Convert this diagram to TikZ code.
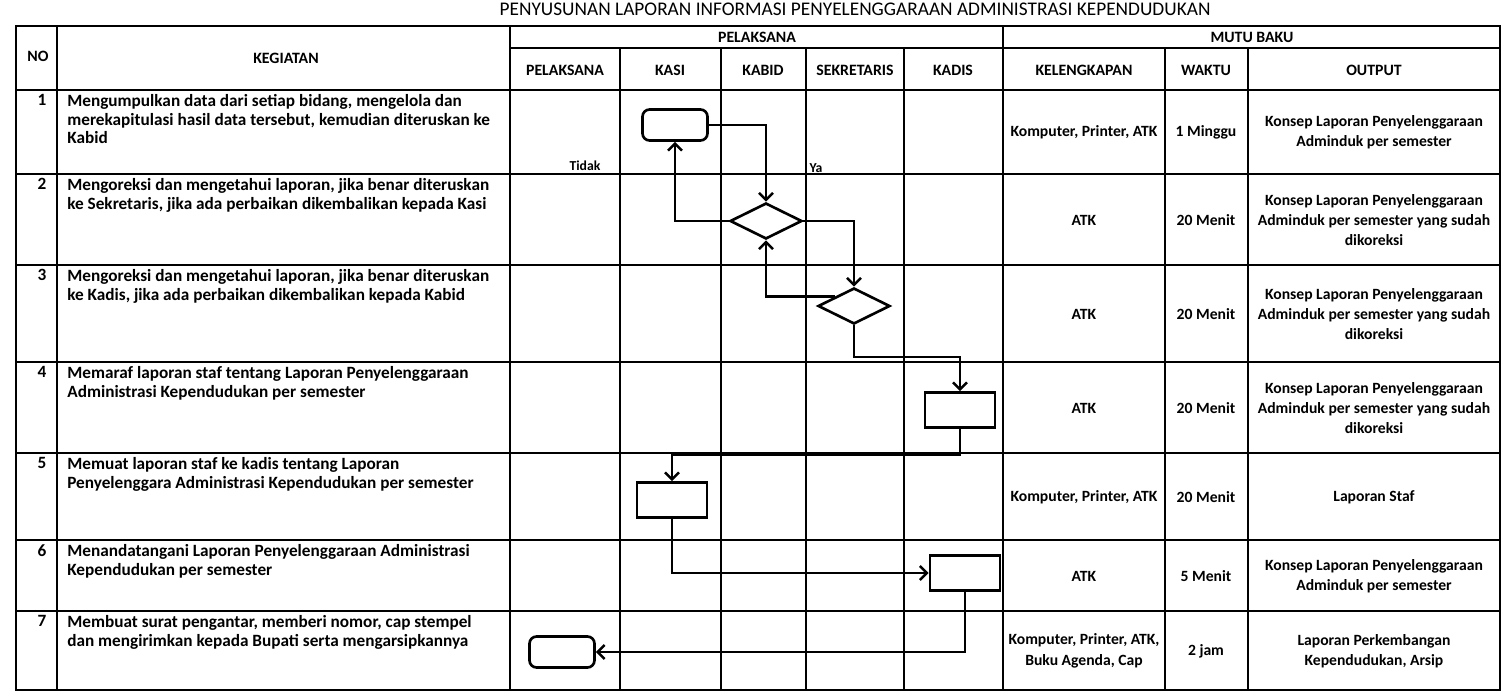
\documentclass[tikz,border=0pt]{standalone}
\usepackage{fontspec}
\setmainfont{Carlito}
\usetikzlibrary{shapes.geometric,arrows.meta}

\tikzset{
  tbl/.style={line width=1pt},
  hd/.style={font=\fontsize{9}{10}\selectfont\bfseries},
  txt/.style={font=\fontsize{9.8}{10.6}\selectfont\bfseries, anchor=north west, align=left, inner sep=0pt},
  num/.style={font=\fontsize{9.8}{10.6}\selectfont\bfseries, anchor=north, inner sep=0pt},
  cell/.style={font=\fontsize{8.9}{11.6}\selectfont\bfseries, align=center},
  term/.style={draw, rounded corners=4pt, line width=1.5pt, minimum width=1.3cm, minimum height=0.62cm},
  proc/.style={draw, line width=1.5pt, minimum width=1.4cm, minimum height=0.7cm},
  dec/.style={draw, diamond, line width=1.5pt, minimum width=1.44cm, minimum height=0.72cm, inner sep=0pt},
  flow/.style={line width=1.4pt, -{Straight Barb[length=4pt,width=8pt]}},
  lbl/.style={font=\fontsize{7.8}{9}\selectfont\bfseries},
}

\begin{document}
\begin{tikzpicture}[x=0.02cm, y=-0.02cm]
    \fill[white] (0,0) rectangle (1502,693);
    \useasboundingbox (0,0) rectangle (1502,693);
    \node[font=\fontsize{11}{12}\selectfont, anchor=base] (judul) at (855,15)
        {PENYUSUNAN LAPORAN INFORMASI PENYELENGGARAAN ADMINISTRASI KEPENDUDUKAN};
    % table grid
    \draw[tbl] (16,26) rectangle (1500,690);
    \foreach \y in {90,174,265,362,453,540,611} {
        \draw[tbl] (16,\y) -- (1500,\y);
    }
    \foreach \x in {57,510,1003} {
        \draw[tbl] (\x,26) -- (\x,690);
    }
    \foreach \x in {620,721,806,904,1165,1248} {
        \draw[tbl] (\x,48) -- (\x,690);
    }
    \draw[tbl] (510,48) -- (1500,48);
    % header
    \node[hd] (no) at (38,56) {NO};
    \node[hd] (keg) at (286,58) {KEGIATAN};
    \node[hd] (pel) at (757,37) {PELAKSANA};
    \node[hd] (mutu) at (1252,37) {MUTU BAKU};
    \foreach \x/\t/\n in {565/PELAKSANA/hpel, 670/KASI/hkasi, 763/KABID/hkabid,
        855/SEKRETARIS/hsek, 953/KADIS/hkadis, 1084/KELENGKAPAN/hkel,
        1206/WAKTU/hwak, 1374/OUTPUT/hout} {
        \node[hd] (\n) at (\x,70) {\t};
    }
    % kegiatan
    \node[num] (n1) at (42,94) {1};
    \node[txt] (k1) at (67,94) {Mengumpulkan data dari setiap bidang, mengelola dan\\merekapitulasi hasil data tersebut, kemudian diteruskan ke\\Kabid};
    \node[num] (n2) at (42,178) {2};
    \node[txt] (k2) at (67,178) {Mengoreksi dan mengetahui laporan, jika benar diteruskan\\ke Sekretaris, jika ada perbaikan dikembalikan kepada Kasi};
    \node[num] (n3) at (42,269) {3};
    \node[txt] (k3) at (67,269) {Mengoreksi dan mengetahui laporan, jika benar diteruskan\\ke Kadis, jika ada perbaikan dikembalikan kepada Kabid};
    \node[num] (n4) at (42,366) {4};
    \node[txt] (k4) at (67,366) {Memaraf laporan staf tentang Laporan Penyelenggaraan\\Administrasi Kependudukan per semester};
    \node[num] (n5) at (42,457) {5};
    \node[txt] (k5) at (67,457) {Memuat laporan staf ke kadis tentang Laporan\\Penyelenggara Administrasi Kependudukan per semester};
    \node[num] (n6) at (42,544) {6};
    \node[txt] (k6) at (67,544) {Menandatangani Laporan Penyelenggaraan Administrasi\\Kependudukan per semester};
    \node[num] (n7) at (42,615) {7};
    \node[txt] (k7) at (67,615) {Membuat surat pengantar, memberi nomor, cap stempel\\dan mengirimkan kepada Bupati serta mengarsipkannya};
    % mutu baku
    \node[cell] (kel1) at (1084,132) {Komputer, Printer, ATK};
    \node[cell] (wak1) at (1206,132) {1 Minggu};
    \node[cell] (out1) at (1374,132) {Konsep Laporan Penyelenggaraan\\Adminduk per semester};
    \node[cell] (kel2) at (1084,220) {ATK};
    \node[cell] (wak2) at (1206,220) {20 Menit};
    \node[cell] (out2) at (1374,220) {Konsep Laporan Penyelenggaraan\\Adminduk per semester yang sudah\\dikoreksi};
    \node[cell] (kel3) at (1084,314) {ATK};
    \node[cell] (wak3) at (1206,314) {20 Menit};
    \node[cell] (out3) at (1374,314) {Konsep Laporan Penyelenggaraan\\Adminduk per semester yang sudah\\dikoreksi};
    \node[cell] (kel4) at (1084,408) {ATK};
    \node[cell] (wak4) at (1206,408) {20 Menit};
    \node[cell] (out4) at (1374,408) {Konsep Laporan Penyelenggaraan\\Adminduk per semester yang sudah\\dikoreksi};
    \node[cell] (kel5) at (1084,497) {Komputer, Printer, ATK};
    \node[cell] (wak5) at (1206,497) {20 Menit};
    \node[cell] (out5) at (1374,497) {Laporan Staf};
    \node[cell] (kel6) at (1084,576) {ATK};
    \node[cell] (wak6) at (1206,576) {5 Menit};
    \node[cell] (out6) at (1374,576) {Konsep Laporan Penyelenggaraan\\Adminduk per semester};
    \node[cell] (kel7) at (1084,651) {Komputer, Printer, ATK,\\Buku Agenda, Cap};
    \node[cell] (wak7) at (1206,651) {2 jam};
    \node[cell] (out7) at (1374,651) {Laporan Perkembangan\\Kependudukan, Arsip};
    % flowchart
    \node[term] (t1) at (675,125) {};
    \node[dec] (d1) at (766,221) {};
    \node[dec] (d2) at (854,306) {};
    \node[proc] (p4) at (960,410) {};
    \node[proc] (p5) at (672,500) {};
    \node[proc] (p6) at (965,573) {};
    \node[term] (t7) at (562,652) {};
    \node[lbl] (tidak) at (585,166) {Tidak};
    \node[lbl] (ya) at (816,168) {Ya};
    \coordinate (b4) at (960,357);
    \coordinate (b5) at (672,455);
    \draw[flow] (t1.east) -| (d1.north);
    \draw[flow] (d1.west) -| (t1.south);
    \draw[flow] (d1.east) -| (d2.north);
    \draw[flow] (d2.north west) -| (d1.south);
    \draw[flow] (d2.south) |- (b4) -- (p4.north);
    \draw[flow] (p4.south) |- (b5) -- (p5.north);
    \draw[flow] (p5.south) |- (p6.west);
    \draw[flow] (p6.south) |- (t7.east);
\end{tikzpicture}
\end{document}
